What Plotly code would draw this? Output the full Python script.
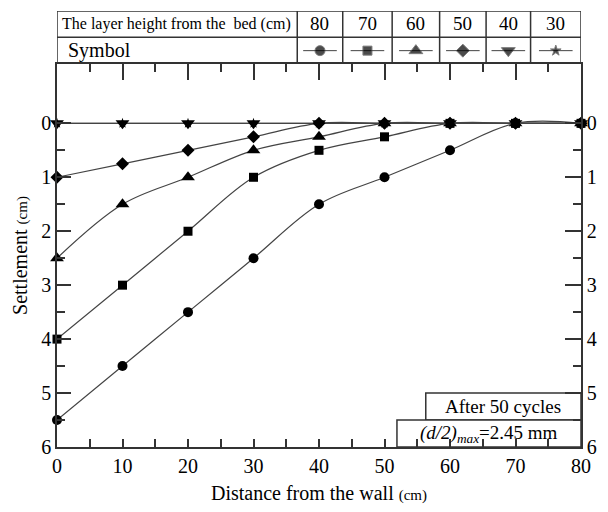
import plotly.graph_objects as go

# ---- data ----
distance = [0, 10, 20, 30, 40, 50, 60, 70, 80]
heights = ["80", "70", "60", "50", "40", "30"]
settle_80 = [5.5, 4.5, 3.5, 2.5, 1.5, 1.0, 0.5, 0.0, 0.0]
settle_70 = [4.0, 3.0, 2.0, 1.0, 0.5, 0.25, 0.0, 0.0, 0.0]
settle_60 = [2.5, 1.5, 1.0, 0.5, 0.25, 0.0, 0.0, 0.0, 0.0]
settle_50 = [1.0, 0.75, 0.5, 0.25, 0.0, 0.0, 0.0, 0.0, 0.0]
settle_40 = [0.0, 0.0, 0.0, 0.0, 0.0, 0.0, 0.0, 0.0, 0.0]
settle_30 = [0.0, 0.0, 0.0, 0.0, 0.0, 0.0, 0.0, 0.0, 0.0]
symbols = ["circle", "square", "triangle-up", "diamond", "triangle-down", "star"]
msizes = [10, 9, 12, 10, 12, 8]
series = {"80": settle_80, "70": settle_70, "60": settle_60,
          "50": settle_50, "40": settle_40, "30": settle_30}

FONT = "Liberation Serif"
LC = "#333333"

# table layout (pixel-like units on the table axes)
col_edges = [0, 243, 289, 339, 387, 434, 479, 530]
row_mid = 26.7
tbl_h = 53

fig = go.Figure()

# draw order so squares end on top
order = ["30", "40", "50", "60", "80", "70"]
for h in order:
    i = heights.index(h)
    fig.add_trace(go.Scatter(
        x=distance, y=series[h], mode="lines+markers",
        line=dict(color="#444444", width=1.2, shape="spline", smoothing=1.0),
        marker=dict(symbol=symbols[i], size=msizes[i], color="black"),
        showlegend=False, xaxis="x", yaxis="y", cliponaxis=False))

# table symbols
for i, h in enumerate(heights):
    c = (col_edges[i + 1] + col_edges[i + 2]) / 2
    fig.add_trace(go.Scatter(
        x=[c - 17, c, c + 17], y=[row_mid / 2] * 3, mode="lines+markers",
        line=dict(color="#444444", width=1),
        marker=dict(symbol=[symbols[i]] * 3, size=[0, msizes[i], 0], color="black"),
        showlegend=False, xaxis="x2", yaxis="y2", hoverinfo="skip"))

shapes = []
# table frame
shapes.append(dict(type="rect", xref="x2", yref="y2", x0=0, x1=530, y0=0, y1=tbl_h,
                   line=dict(color=LC, width=1.5)))
shapes.append(dict(type="line", xref="x2", yref="y2", x0=0, x1=530, y0=row_mid, y1=row_mid,
                   line=dict(color=LC, width=1.5)))
for e in col_edges[1:-1]:
    shapes.append(dict(type="line", xref="x2", yref="y2", x0=e, x1=e, y0=0, y1=tbl_h,
                       line=dict(color=LC, width=1.5)))
# info boxes
shapes.append(dict(type="rect", xref="x", yref="y", x0=56.3, x1=80, y0=5.0, y1=5.5,
                   line=dict(color=LC, width=1.5), fillcolor="white", layer="below"))
shapes.append(dict(type="rect", xref="x", yref="y", x0=51.9, x1=80, y0=5.5, y1=6.0,
                   line=dict(color=LC, width=1.5), fillcolor="white", layer="below"))

ann = []
ann.append(dict(xref="x2", yref="y2", x=3, y=(row_mid + tbl_h) / 2, xanchor="left", yanchor="middle",
                text="The layer height from the  bed (cm)", showarrow=False,
                font=dict(family=FONT, size=16, color="black")))
ann.append(dict(xref="x2", yref="y2", x=9, y=row_mid / 2, xanchor="left", yanchor="middle",
                text="Symbol", showarrow=False, font=dict(family=FONT, size=20, color="black")))
for i, h in enumerate(heights):
    c = (col_edges[i + 1] + col_edges[i + 2]) / 2
    ann.append(dict(xref="x2", yref="y2", x=c, y=(row_mid + tbl_h) / 2 + 1, xanchor="center",
                    yanchor="middle", text=h, showarrow=False,
                    font=dict(family=FONT, size=19, color="black")))
ann.append(dict(xref="x", yref="y", x=(56.3 + 80) / 2, y=5.25, text="After 50 cycles",
                showarrow=False, font=dict(family=FONT, size=19, color="black")))
ann.append(dict(xref="x", yref="y", x=(51.9 + 80) / 2, y=5.75,
                text="<i>(d/2)</i><sub><i>max</i></sub>=2.45 mm",
                showarrow=False, font=dict(family=FONT, size=19, color="black")))

dom = 383 / 436
tickfont = dict(family=FONT, size=20, color="black")
yt = [0, 1, 2, 3, 4, 5, 6]
ym = [0.5, 1.5, 2.5, 3.5, 4.5, 5.5]

fig.update_layout(
    width=608, height=512,
    margin=dict(l=57, r=21, t=11, b=65),
    paper_bgcolor="white", plot_bgcolor="white",
    font=dict(family=FONT, color="black"),
    shapes=shapes, annotations=ann,
    xaxis=dict(domain=[0, 1], anchor="y", range=[0, 80], tickvals=[0, 10, 20, 30, 40, 50, 60, 70, 80],
               ticks="inside", ticklen=8, tickcolor=LC, tickwidth=1.5,
               minor=dict(tickvals=[5, 15, 25, 35, 45, 55, 65, 75], ticks="inside", ticklen=8,
                          tickcolor=LC, tickwidth=1.5),
               showline=True, linecolor=LC, linewidth=1.5, showgrid=False, zeroline=False,
               tickfont=tickfont,
               title=dict(text="Distance from the wall <span style='font-size:15px'>(cm)</span>",
                          font=dict(family=FONT, size=20), standoff=10)),
    xaxis4=dict(overlaying="x", side="top", anchor="y", range=[0, 80],
                tickvals=[10, 20, 30, 40, 50, 60, 70, 80], ticks="inside", ticklen=16,
                tickcolor=LC, tickwidth=1.5, showticklabels=False,
                minor=dict(tickvals=[5, 15, 25, 35, 45, 55, 65, 75], ticks="inside", ticklen=8,
                           tickcolor=LC, tickwidth=1.5),
                showline=True, linecolor=LC, linewidth=1.5, showgrid=False, zeroline=False),
    yaxis=dict(domain=[0, dom], anchor="x", range=[6, -1.1], tickvals=yt,
               ticks="inside", ticklen=14, tickcolor=LC, tickwidth=1.5,
               minor=dict(tickvals=ym, ticks="inside", ticklen=8, tickcolor=LC, tickwidth=1.5),
               showline=True, linecolor=LC, linewidth=1.5, showgrid=False, zeroline=False,
               tickfont=tickfont,
               title=dict(text="Settlement <span style='font-size:15px'>(cm)</span>",
                          font=dict(family=FONT, size=20), standoff=8)),
    yaxis3=dict(overlaying="y", side="right", anchor="x", range=[6, -1.1], tickvals=yt,
                ticks="inside", ticklen=16, tickcolor=LC, tickwidth=1.5,
                minor=dict(tickvals=ym, ticks="inside", ticklen=8, tickcolor=LC, tickwidth=1.5),
                showline=True, linecolor=LC, linewidth=1.5, showgrid=False, zeroline=False,
                tickfont=tickfont),
    xaxis2=dict(domain=[0, 1], anchor="y2", range=[0, 530], visible=False, fixedrange=True),
    yaxis2=dict(domain=[dom, 1], anchor="x2", range=[0, tbl_h], visible=False, fixedrange=True),
)

# dummy traces to activate overlay axes
fig.add_trace(go.Scatter(x=[None], y=[None], xaxis="x4", yaxis="y", showlegend=False))
fig.add_trace(go.Scatter(x=[None], y=[None], xaxis="x", yaxis="y3", showlegend=False))

fig.write_html("out.html")
